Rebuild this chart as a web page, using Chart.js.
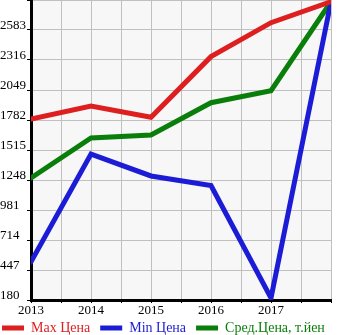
<!DOCTYPE html>
<html>
<head>
<meta charset="utf-8">
<script src="https://cdn.jsdelivr.net/npm/chart.js@4.4.0/dist/chart.umd.min.js"></script>
<style>
  html, body { margin: 0; padding: 0; background: #fff; }
  #wrap { width: 345px; height: 335px; }
</style>
</head>
<body>
<div id="wrap"><canvas id="priceChart"></canvas></div>
<script>
const years = [2013, 2014, 2015, 2016, 2017, 2018];
const maxPrice = [1790, 1907, 1806, 2346, 2648, 2835];
const minPrice = [520, 1479, 1284, 1198, 198, 2835];
const avgPrice = [1266, 1622, 1648, 1936, 2043, 2835];
const yTicks = [180, 447, 714, 981, 1248, 1515, 1782, 2049, 2316, 2583];

const toPoints = (vals) => vals.map((v, i) => ({ x: years[i], y: v }));

const plotBg = {
    id: "plotBg",
    beforeDraw(chart) {
        const a = chart.chartArea;
        chart.ctx.save();
        chart.ctx.fillStyle = "#f7f7f7";
        chart.ctx.fillRect(a.left, a.top, a.right - a.left, a.bottom - a.top);
        chart.ctx.restore();
    }
};

// the legend in the original hugs the left and bottom edges
const legendShift = {
    id: "legendShift",
    afterLayout(chart) {
        if (chart.legend) {
            chart.legend.left -= 8;
            chart.legend.right -= 8;
            chart.legend.top -= 7;
            chart.legend.bottom -= 7;
        }
    }
};

const serif = { family: "'Liberation Serif', 'DejaVu Serif', serif", size: 13 };

const ctx = document.getElementById("priceChart").getContext("2d");

const priceChart = new Chart(ctx, {
    type: "line",
    data: {
        datasets: [
            {
                label: "Max Цена",
                data: toPoints(maxPrice),
                borderColor: "#dd1f1f",
                backgroundColor: "#dd1f1f",
                borderWidth: 5,
                borderCapStyle: "round",
                pointRadius: 0,
                tension: 0
            },
            {
                label: "Min Цена",
                data: toPoints(minPrice),
                borderColor: "#1c1cd6",
                backgroundColor: "#1c1cd6",
                borderWidth: 5,
                borderCapStyle: "round",
                pointRadius: 0,
                tension: 0
            },
            {
                label: "Сред.Цена, т.йен",
                data: toPoints(avgPrice),
                borderColor: "#0a7e0a",
                backgroundColor: "#0a7e0a",
                borderWidth: 5,
                borderCapStyle: "round",
                pointRadius: 0,
                tension: 0
            }
        ]
    },
    options: {
        responsive: true,
        maintainAspectRatio: false,
        animation: false,
        layout: { padding: { top: 0, right: 0, left: 0, bottom: -17 } },
        plugins: {
            tooltip: { enabled: false },
            legend: {
                position: "bottom",
                align: "start",
                labels: {
                    usePointStyle: true,
                    pointStyle: "line",
                    pointStyleWidth: 22,
                    boxHeight: 5,
                    padding: 10,
                    font: { family: serif.family, size: 14 },
                    generateLabels(chart) {
                        const items = Chart.defaults.plugins.legend.labels.generateLabels(chart);
                        items.forEach((it) => { it.fontColor = it.strokeStyle; });
                        return items;
                    }
                }
            }
        },
        scales: {
            x: {
                type: "linear",
                min: 2013,
                max: 2018,
                afterBuildTicks(scale) {
                    scale.ticks = [];
                    for (let v = 2013; v <= 2018; v += 0.5) scale.ticks.push({ value: v });
                },
                ticks: {
                    autoSkip: false,
                    maxRotation: 0,
                    color: "#000",
                    font: serif,
                    padding: 0,
                    callback: (v) => (Number.isInteger(v) && v < 2018 ? String(v) : "")
                },
                grid: { color: "#c0c0c0", tickColor: "#000", tickLength: 3 },
                border: { color: "#000", width: 3 },
                afterFit(scale) {
                    scale.height = 18;
                    scale.paddingLeft = 0;
                    scale.paddingRight = 14;
                }
            },
            y: {
                min: 180,
                max: 2850,
                afterBuildTicks(scale) {
                    scale.ticks = yTicks.concat([2850]).map((v) => ({ value: v }));
                },
                ticks: {
                    autoSkip: false,
                    color: "#000",
                    font: serif,
                    crossAlign: "far",
                    padding: 2,
                    labelOffset: -4,
                    callback: (v) => (yTicks.includes(v) ? String(v) : "")
                },
                grid: { color: "#c0c0c0", tickColor: "#000", tickLength: 4 },
                border: { color: "#000", width: 3 },
                afterFit(scale) {
                    scale.width = 31;
                    scale.paddingTop = 0;
                    scale.paddingBottom = 0;
                }
            }
        }
    },
    plugins: [plotBg, legendShift]
});
</script>
</body>
</html>
